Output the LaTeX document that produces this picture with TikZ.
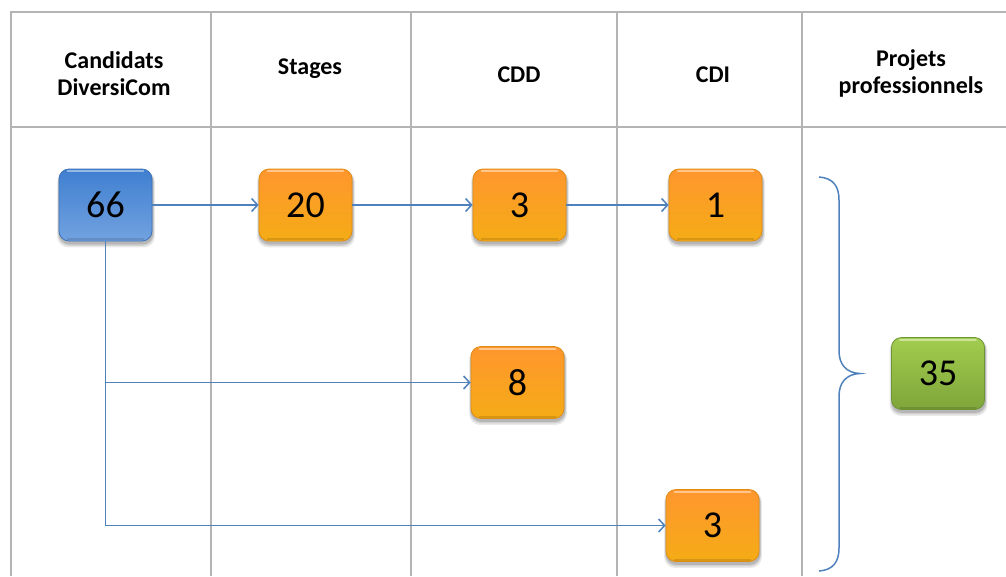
\documentclass[tikz,border=0pt]{standalone}
\usepackage{fontspec}
\setmainfont{Carlito}
\usetikzlibrary{arrows.meta,backgrounds,fadings}
\definecolor{gridc}{HTML}{B4B4B4}
\definecolor{linec}{HTML}{4F81BD}
\definecolor{orTop}{HTML}{FF962E}
\definecolor{orBot}{HTML}{F4AC16}
\definecolor{orBd}{HTML}{E08C12}
\definecolor{blTop}{HTML}{3F7FD0}
\definecolor{blBot}{HTML}{72A2E0}
\definecolor{blBd}{HTML}{3E72B8}
\definecolor{grTop}{HTML}{A2CD4E}
\definecolor{grBot}{HTML}{7EA53A}
\definecolor{grBd}{HTML}{6E9434}
\tikzset{
  numbox/.style={rounded corners=10pt, minimum width=93pt, minimum height=72pt,
    font=\fontsize{38}{42}\selectfont, text=black, line width=0.8pt},
  orbox/.style={numbox, draw=orBd, top color=orTop, bottom color=orBot},
  blbox/.style={numbox, draw=blBd, top color=blTop, bottom color=blBot},
  grbox/.style={numbox, draw=grBd, top color=grTop, bottom color=grBot},
  hdr/.style={font=\fontsize{24}{27}\selectfont\bfseries, align=center, text=black},
  grid/.style={draw=gridc, line width=1.6pt},
  conn/.style={draw=linec, line width=1.5pt, -{Straight Barb[length=6pt,width=13pt,line width=1.5pt]}},
  plain/.style={draw=linec, line width=1.5pt},
  shad/.style={fill=black!70, rounded corners=11pt}
}
\begin{document}
\begin{tikzpicture}[x=1pt,y=-1pt]
\useasboundingbox (0,0) rectangle (1006,576);
% headers
\node[hdr] (h1) at (114,73.5) {Candidats\\DiversiCom};
\node[hdr] (h2) at (310,69) {Stages};
\node[hdr] (h3) at (519,75) {CDD};
\node[hdr] (h4) at (713,75) {CDI};
\node[hdr] (h5) at (911,73.5) {Projets\\professionnels};
% boxes
\node[blbox] (n66) at (105.5,205) {66};
\node[orbox] (n20) at (305.5,205) {20};
\node[orbox] (n3a) at (519.5,205) {3};
\node[orbox] (n1) at (715.5,205) {1};
\node[orbox] (n8) at (517.5,382.5) {8};
\node[orbox] (n3b) at (712.5,525.5) {3};
\node[grbox] (n35) at (938,373.5) {35};
% gloss and bevel
\foreach \n in {n66,n20,n3a,n1,n8,n3b,n35}{
  \draw[white, opacity=0.45, line width=2pt, line cap=round]
    ([shift={(9,2.5)}]\n.north west) -- ([shift={(-9,2.5)}]\n.north east);
  \draw[black, opacity=0.12, line width=2pt, line cap=round]
    ([shift={(9,-2)}]\n.south west) -- ([shift={(-9,-2)}]\n.south east);
}
% connectors
\draw[conn] (n66) -- (n20);
\draw[conn] (n20) -- (n3a);
\draw[conn] (n3a) -- (n1);
\coordinate (j1) at (n66.south |- n8.west);
\coordinate (j2) at (n66.south |- n3b.west);
\draw[plain] (n66.south) -- (j2);
\draw[conn] (j1) -- (n8.west);
\draw[conn] (j2) -- (n3b.west);
% brace
\coordinate (bt) at (819,177);
\coordinate (bb) at (819,571);
\coordinate (bm) at (860,373.5);
\draw[plain] (bt) .. controls (833,178) and (839,186) .. (839,200)
  -- (839,351) .. controls (839,364) and (846,373) .. (bm)
  .. controls (846,374) and (839,383) .. (839,396)
  -- (839,548) .. controls (839,562) and (833,570) .. (bb);
\begin{scope}[on background layer]
\fill[white] (0,0) rectangle (1006,576);
% grid
\draw[grid] (1006,12) -- (11,12) -- (11,576);
\draw[grid] (11,127) -- (1006,127);
\foreach \x in {211,411,617,802} \draw[grid] (\x,12) -- (\x,576);
% shadows
\foreach \n in {n66,n20,n3a,n1,n8,n3b,n35}{
  \fill[shad, opacity=0.12] ([shift={(-1.5,2)}]\n.north west) rectangle ([shift={(2.5,6)}]\n.south east);
  \fill[shad, opacity=0.15] ([shift={(-0.5,2)}]\n.north west) rectangle ([shift={(1.5,4.5)}]\n.south east);
  \fill[shad, opacity=0.2] ([shift={(0,2)}]\n.north west) rectangle ([shift={(1,3)}]\n.south east);
}
\end{scope}
\end{tikzpicture}
\end{document}
